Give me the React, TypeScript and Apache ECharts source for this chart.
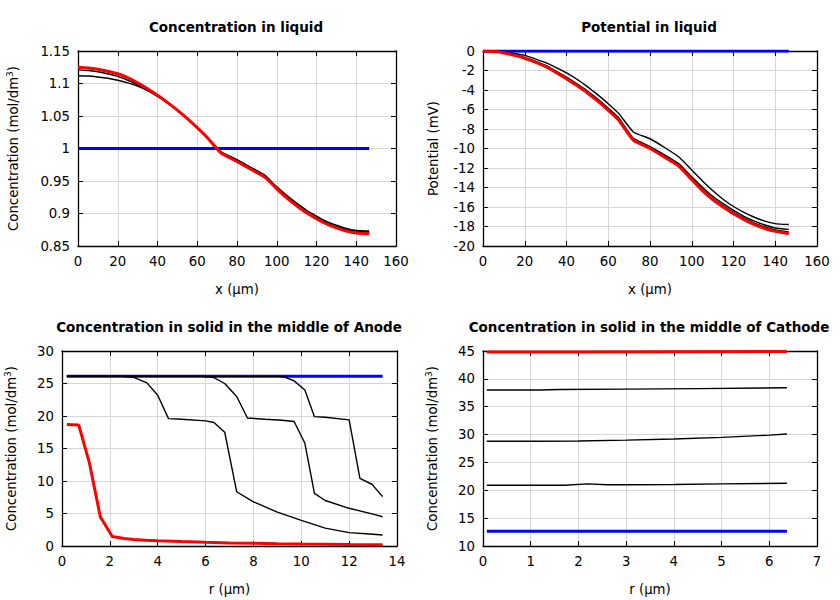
import React, { useEffect, useRef } from "react";
import * as echarts from "echarts";

// ---------- Plot 1: Concentration in liquid ----------
const liqX = [0, 5, 10, 15, 20, 25, 30, 35, 40, 45, 50, 55, 60, 65, 72, 80, 87, 94, 100, 105, 110, 115, 120, 125, 130, 135, 140, 146.5];
const concBlue = [1, 1, 1, 1, 1, 1, 1, 1, 1, 1, 1, 1, 1, 1, 1, 1, 1, 1, 1, 1, 1, 1, 1, 1, 1, 1, 1, 1];
const concBlackA = [1.112, 1.1115, 1.110, 1.108, 1.105, 1.101, 1.096, 1.089, 1.080, 1.070, 1.059, 1.046, 1.032, 1.017, 0.995, 0.983, 0.971, 0.959, 0.941, 0.928, 0.916, 0.905, 0.896, 0.888, 0.882, 0.877, 0.874, 0.873];
const concBlackB = [1.121, 1.120, 1.118, 1.115, 1.111, 1.105, 1.098, 1.090, 1.081, 1.070, 1.059, 1.046, 1.032, 1.017, 0.994, 0.982, 0.970, 0.958, 0.940, 0.926, 0.914, 0.903, 0.894, 0.886, 0.880, 0.875, 0.873, 0.872];
const concBlackC = [1.124, 1.123, 1.121, 1.118, 1.114, 1.108, 1.100, 1.091, 1.082, 1.071, 1.059, 1.046, 1.032, 1.017, 0.993, 0.980, 0.968, 0.956, 0.938, 0.924, 0.912, 0.901, 0.892, 0.884, 0.878, 0.874, 0.871, 0.870];
const concRed = [1.125, 1.124, 1.122, 1.119, 1.115, 1.109, 1.101, 1.092, 1.082, 1.071, 1.059, 1.046, 1.032, 1.017, 0.993, 0.980, 0.968, 0.956, 0.938, 0.924, 0.912, 0.901, 0.892, 0.884, 0.878, 0.873, 0.870, 0.869];

// ---------- Plot 2: Potential in liquid ----------
const potBlue = [0, 0, 0, 0, 0, 0, 0, 0, 0, 0, 0, 0, 0, 0, 0, 0, 0, 0, 0, 0, 0, 0, 0, 0, 0, 0, 0, 0];
const potBlackA = [0, 0, -0.1, -0.25, -0.45, -0.8, -1.2, -1.7, -2.25, -2.9, -3.65, -4.5, -5.4, -6.4, -8.3, -9.0, -9.9, -10.9, -12.2, -13.3, -14.3, -15.2, -15.95, -16.55, -17.05, -17.45, -17.7, -17.8];
const potBlackB = [0, -0.03, -0.15, -0.38, -0.65, -1.03, -1.47, -2.05, -2.68, -3.37, -4.1, -4.93, -5.87, -6.85, -8.95, -9.8, -10.65, -11.6, -12.9, -13.95, -14.9, -15.65, -16.35, -16.95, -17.45, -17.85, -18.15, -18.3];
const potBlackC = [0, -0.04, -0.18, -0.42, -0.7, -1.1, -1.55, -2.13, -2.77, -3.47, -4.22, -5.06, -6.0, -7.0, -9.05, -9.9, -10.8, -11.75, -13.05, -14.15, -15.1, -15.85, -16.55, -17.15, -17.65, -18.05, -18.35, -18.55];
const potRed = [0, -0.05, -0.2, -0.45, -0.75, -1.15, -1.6, -2.2, -2.85, -3.55, -4.3, -5.15, -6.1, -7.1, -9.15, -10.0, -10.9, -11.85, -13.2, -14.3, -15.25, -16.0, -16.7, -17.3, -17.8, -18.2, -18.5, -18.75];

// ---------- Plot 3: Concentration in solid, Anode ----------
const anBlueX = [0.2, 13.4];
const anBlueY = [26.1, 26.1];
const anBlack1X = [0.2, 2.5, 3.0, 3.55, 4.0, 4.45, 5.0, 6.0, 6.35, 6.8, 7.3, 8.0, 9.0, 10.0, 11.0, 12.0, 13.0, 13.4];
const anBlack1Y = [26.1, 26.1, 25.95, 25.1, 23.2, 19.6, 19.5, 19.25, 19.0, 17.5, 8.35, 6.8, 5.2, 3.95, 2.75, 2.05, 1.8, 1.7];
const anBlack2X = [0.2, 5.8, 6.35, 6.8, 7.3, 7.75, 8.5, 9.2, 9.7, 10.15, 10.55, 11.0, 12.0, 13.0, 13.4];
const anBlack2Y = [26.1, 26.1, 25.9, 25.0, 23.0, 19.7, 19.5, 19.35, 19.15, 15.8, 8.1, 7.0, 5.8, 4.9, 4.5];
const anBlack3X = [0.2, 9.0, 9.3, 9.7, 10.15, 10.55, 11.0, 12.0, 12.45, 12.95, 13.4];
const anBlack3Y = [26.1, 26.1, 26.0, 25.4, 24.0, 19.9, 19.8, 19.4, 10.4, 9.5, 7.6];
const anRedX = [0.2, 0.7, 1.15, 1.6, 2.1, 2.6, 3.0, 3.5, 4, 5, 6, 7, 8, 9, 10, 11, 12, 13, 13.4];
const anRedY = [18.7, 18.6, 12.7, 4.5, 1.45, 1.15, 1.0, 0.9, 0.82, 0.68, 0.57, 0.48, 0.41, 0.35, 0.3, 0.26, 0.22, 0.19, 0.18];

// ---------- Plot 4: Concentration in solid, Cathode ----------
const caBlueX = [0.08, 6.37];
const caBlueY = [12.65, 12.65];
const caBlack1X = [0.08, 1.2, 1.6, 3, 4.5, 6.37];
const caBlack1Y = [38.0, 38.0, 38.1, 38.15, 38.25, 38.4];
const caBlack2X = [0.08, 1, 2, 3, 4, 5, 6, 6.37];
const caBlack2Y = [28.8, 28.8, 28.85, 29.0, 29.2, 29.5, 29.9, 30.1];
const caBlack3X = [0.08, 1.7, 2.2, 2.6, 3, 4, 5, 6.37];
const caBlack3Y = [20.9, 20.9, 21.15, 21.0, 21.0, 21.05, 21.15, 21.25];
const caRedX = [0.08, 2, 4, 6.37];
const caRedY = [44.8, 44.8, 44.85, 44.9];

const titles = [
  "Concentration in liquid",
  "Potential in liquid",
  "Concentration in solid in the middle of Anode",
  "Concentration in solid in the middle of Cathode",
];
const xNames = ["x (µm)", "x (µm)", "r (µm)", "r (µm)"];
const yNames = [
  "Concentration (mol/dm{sup|3})",
  "Potential (mV)",
  "Concentration (mol/dm{sup|3})",
  "Concentration (mol/dm{sup|3})",
];

const FONT = "DejaVu Sans";
const zip = (xs: number[], ys: number[]) => xs.map((x, i) => [x, ys[i]]);

export default function App() {
  const ref = useRef<HTMLDivElement>(null);
  useEffect(() => {
    if (!ref.current) return;
    const chart = echarts.init(ref.current, null, { renderer: "svg" });

    const grids = [
      { left: 78, top: 51, width: 318, height: 195 },
      { left: 483, top: 51, width: 334, height: 195 },
      { left: 62, top: 351, width: 335, height: 195 },
      { left: 483, top: 351, width: 334, height: 195 },
    ];
    const xSpec = [
      { min: 0, max: 160, interval: 20 },
      { min: 0, max: 160, interval: 20 },
      { min: 0, max: 14, interval: 2 },
      { min: 0, max: 7, interval: 1 },
    ];
    const ySpec = [
      { min: 0.85, max: 1.15, interval: 0.05, gap: 57 },
      { min: -20, max: 0, interval: 2, gap: 43 },
      { min: 0, max: 30, interval: 5, gap: 43 },
      { min: 10, max: 45, interval: 5, gap: 43 },
    ];
    const lineStyleAxis = { color: "#000", width: 1.3 };
    const nameStyle = {
      color: "#000", fontFamily: FONT, fontSize: 13.3,
      rich: { sup: { fontSize: 9, fontFamily: FONT, color: "#000", verticalAlign: "top", padding: [0, 0, 7, 0] } },
    };
    const xAxis: any[] = [];
    const yAxis: any[] = [];
    for (let g = 0; g < 4; g++) {
      const xs = xSpec[g];
      xAxis.push({
        type: "value", gridIndex: g, position: "bottom", min: xs.min, max: xs.max, interval: xs.interval,
        name: xNames[g], nameLocation: "middle", nameGap: 37,
        nameTextStyle: { color: "#000", fontFamily: FONT, fontSize: 13.3 },
        axisLine: { show: true, onZero: false, lineStyle: lineStyleAxis },
        axisTick: { show: true, inside: true, length: 5, lineStyle: { color: "#000" } },
        axisLabel: { color: "#000", fontFamily: FONT, fontSize: 13.3, margin: 9 },
        splitLine: { show: true, lineStyle: { color: "#d6d6d6", width: 1 } },
      });
      xAxis.push({
        type: "value", gridIndex: g, position: "top", min: xs.min, max: xs.max, interval: xs.interval,
        axisLine: { show: true, onZero: false, lineStyle: lineStyleAxis },
        axisTick: { show: true, inside: true, length: 5, lineStyle: { color: "#000" } },
        axisLabel: { show: false },
        splitLine: { show: false },
      });
      const ys = ySpec[g];
      yAxis.push({
        type: "value", gridIndex: g, position: "left", min: ys.min, max: ys.max, interval: ys.interval,
        name: yNames[g], nameLocation: "middle", nameGap: ys.gap,
        nameTextStyle: nameStyle,
        axisLine: { show: true, onZero: false, lineStyle: lineStyleAxis },
        axisTick: { show: true, inside: true, length: 5, lineStyle: { color: "#000" } },
        axisLabel: { color: "#000", fontFamily: FONT, fontSize: 13.3, margin: 8 },
        splitLine: { show: true, lineStyle: { color: "#d6d6d6", width: 1 } },
      });
      yAxis.push({
        type: "value", gridIndex: g, position: "right", min: ys.min, max: ys.max, interval: ys.interval,
        axisLine: { show: true, onZero: false, lineStyle: lineStyleAxis },
        axisTick: { show: true, inside: true, length: 5, lineStyle: { color: "#000" } },
        axisLabel: { show: false },
        splitLine: { show: false },
      });
    }

    const BLUE = "#0000ff", RED = "#ff0000", BLACK = "#000000";
    const mk = (g: number, data: number[][], color: string, width: number, smooth = 0) => ({
      type: "line", xAxisIndex: 2 * g, yAxisIndex: 2 * g, data, showSymbol: false, symbol: "none",
      smooth, lineStyle: { color, width }, itemStyle: { color }, z: color === RED ? 4 : color === BLUE ? 2 : 3,
    });

    const series = [
      mk(0, zip(liqX, concBlue), BLUE, 3),
      mk(0, zip(liqX, concBlackA), BLACK, 1.4, 0.15),
      mk(0, zip(liqX, concBlackB), BLACK, 1.4, 0.15),
      mk(0, zip(liqX, concBlackC), BLACK, 1.4, 0.15),
      mk(0, zip(liqX, concRed), RED, 3, 0.15),
      mk(1, zip(liqX, potBlue), BLUE, 3),
      mk(1, zip(liqX, potBlackA), BLACK, 1.4, 0.15),
      mk(1, zip(liqX, potBlackB), BLACK, 1.4, 0.15),
      mk(1, zip(liqX, potBlackC), BLACK, 1.4, 0.15),
      mk(1, zip(liqX, potRed), RED, 3, 0.15),
      mk(2, zip(anBlueX, anBlueY), BLUE, 3),
      mk(2, zip(anBlack1X, anBlack1Y), BLACK, 1.4),
      mk(2, zip(anBlack2X, anBlack2Y), BLACK, 1.4),
      mk(2, zip(anBlack3X, anBlack3Y), BLACK, 1.4),
      mk(2, zip(anRedX, anRedY), RED, 3),
      mk(3, zip(caBlueX, caBlueY), BLUE, 3),
      mk(3, zip(caBlack1X, caBlack1Y), BLACK, 1.4),
      mk(3, zip(caBlack2X, caBlack2Y), BLACK, 1.4),
      mk(3, zip(caBlack3X, caBlack3Y), BLACK, 1.4),
      mk(3, zip(caRedX, caRedY), RED, 3),
    ];

    const titleCenters = [[236, 27], [649, 27], [229, 327], [649, 327]];
    chart.setOption({
      animation: false,
      backgroundColor: "#ffffff",
      graphic: titles.map((t, i) => ({
        type: "text", x: titleCenters[i][0], y: titleCenters[i][1],
        style: {
          text: t, fontFamily: FONT, fontSize: 13.5, fontWeight: "bold", fill: "#000",
          textAlign: "center", textVerticalAlign: "middle",
        },
      })),
      grid: grids,
      xAxis,
      yAxis,
      series,
    });
    return () => chart.dispose();
  }, []);
  return (
    <div
      ref={ref}
      style={{ position: "fixed", left: 0, top: 0, width: 840, height: 600, background: "#fff" }}
    />
  );
}
